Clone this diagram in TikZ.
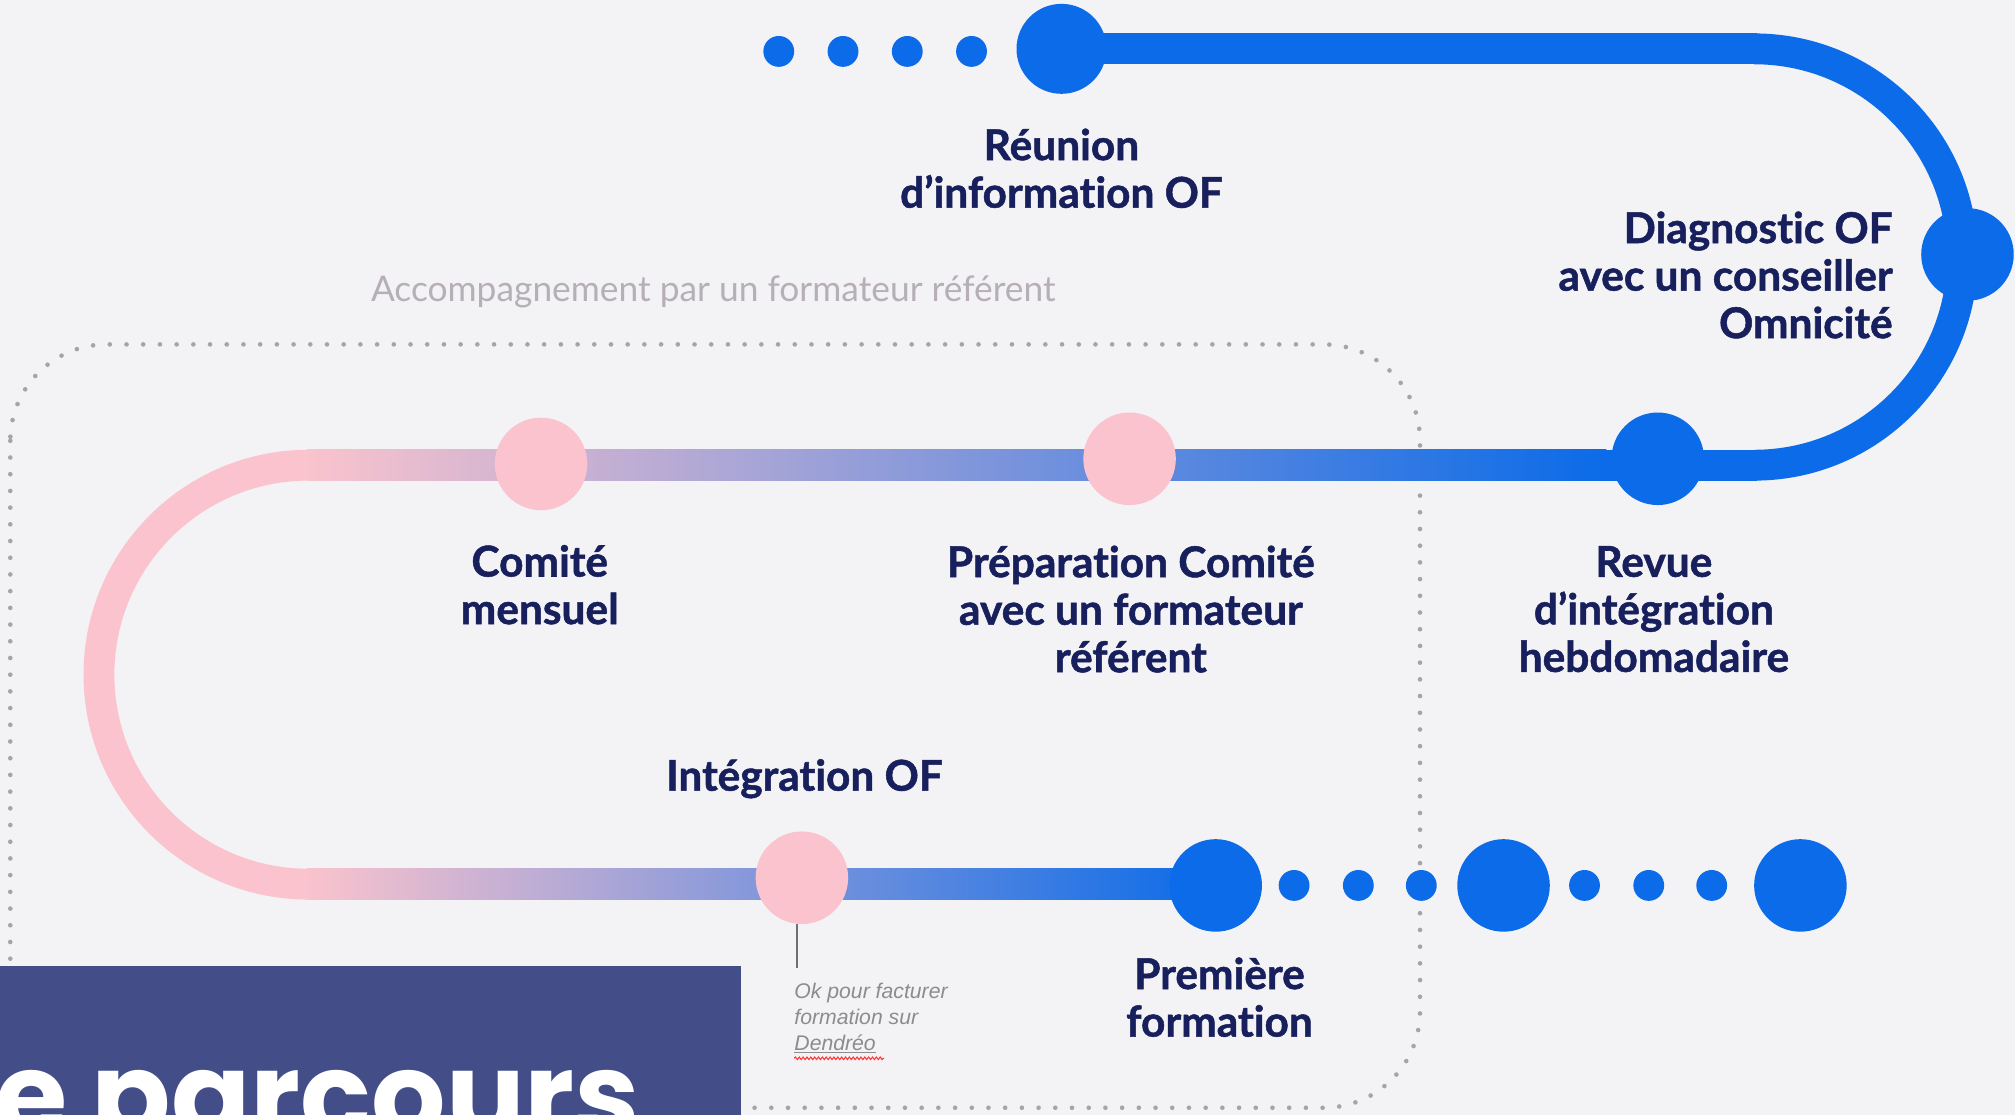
\documentclass[tikz,border=0pt]{standalone}
\usepackage{fontspec}
\setmainfont{Lato}[Ligatures=NoCommon,BoldFeatures={FakeBold=1.2}]
\newfontfamily\notefont{Liberation Sans}
\newfontfamily\titlefont{Poppins}
\usetikzlibrary{decorations.pathmorphing,calc}
\definecolor{bg}{HTML}{F3F2F5}
\definecolor{blueA}{HTML}{0B6BE8}
\definecolor{pinkA}{HTML}{FAC3CD}
\definecolor{navy}{HTML}{17205C}
\definecolor{boxblue}{HTML}{434E89}
\definecolor{greytxt}{HTML}{B7AFB8}
\definecolor{dotgrey}{HTML}{A5A5A8}
\definecolor{notegrey}{HTML}{8C8C8C}
\begin{document}
\begin{tikzpicture}[x=1pt,y=-1pt,
  bigdot/.style={circle,inner sep=0pt,minimum size=72pt},
  bluedot/.style={bigdot,fill=blueA},
  pinkdot/.style={bigdot,fill=pinkA},
  smalldot/.style={circle,fill=blueA,inner sep=0pt,minimum size=24pt},
  steplabel/.style={text=navy,font=\bfseries\fontsize{33}{37}\selectfont,align=center,inner sep=0pt},
  track/.style={line width=24pt},
  frame/.style={dotgrey,line width=3.6pt,line cap=round,dash pattern=on 0pt off 13pt,rounded corners=75pt},
  notestyle/.style={text=notegrey,font=\notefont\itshape\fontsize{16.5}{20}\selectfont,align=left,inner sep=0pt}
  ]
\useasboundingbox (0,0) rectangle (1568,868);
\clip (0,0) rectangle (1568,868);
\fill[bg] (0,0) rectangle (1568,868);

% dotted frame
\draw[frame] (8,268) rectangle (1105,862);

% track
\fill[blueA] (826,26) rectangle (1367,50);
\begin{scope}
  \clip (1365,0) rectangle (1600,400);
  \draw[track,blueA] (1365,200) circle[radius=162pt];
\end{scope}
\fill[blueA] (1248,350) rectangle (1367,374);
\shade[left color=pinkA,right color=blueA] (239,350) rectangle (1250,374);
\begin{scope}
  \clip (0,340) rectangle (241,712);
  \draw[track,pinkA] (240,525) circle[radius=163pt];
\end{scope}
\shade[left color=pinkA,right color=blueA] (239,676) rectangle (947,700);

% stations
\node[smalldot] (t1) at (606,40) {};
\node[smalldot] (t2) at (656,40) {};
\node[smalldot] (t3) at (706,40) {};
\node[smalldot] (t4) at (756,40) {};
\node[bluedot,minimum size=70pt] (reunion) at (826,38) {};
\node[bluedot] (diag) at (1531,198) {};
\node[bluedot] (revue) at (1290,357) {};
\node[pinkdot] (prep) at (879,357) {};
\node[pinkdot] (comite) at (421,361) {};
\node[pinkdot] (integ) at (624,683) {};
\node[bluedot] (premiere) at (946,689) {};
\node[smalldot] (b1) at (1007,689) {};
\node[smalldot] (b2) at (1057,689) {};
\node[smalldot] (b3) at (1106,689) {};
\node[bluedot] (big2) at (1170,689) {};
\node[smalldot] (b4) at (1233,689) {};
\node[smalldot] (b5) at (1283,689) {};
\node[smalldot] (b6) at (1332,689) {};
\node[bluedot] (big3) at (1401,689) {};

% labels
\node[steplabel] (lreunion) at (826,131) {Réunion\\d’information OF};
\node[steplabel,align=right,anchor=east] (ldiag) at (1473,214) {Diagnostic OF\\avec un conseiller\\Omnicité};
\node[steplabel] (lcomite) at (420,455) {Comité\\mensuel};
\node[steplabel] (lprep) at (880,474) {Préparation Comité\\avec un formateur\\référent};
\node[steplabel] (lrevue) at (1287,474) {Revue\\d’intégration\\hebdomadaire};
\node[steplabel] (linteg) at (626,606) {Intégration OF};
\node[steplabel] (lprem) at (949,776) {Première\\formation};

\node[text=greytxt,font=\fontsize{27.5}{30}\selectfont,inner sep=0pt] (accomp) at (555,227) {Accompagnement par un formateur référent};

% note
\coordinate (tickend) at (620,753);
\draw[line width=1.5pt,color=notegrey!80!black] (tickend |- integ.south) -- (tickend);
\node[notestyle,anchor=north west] (note) at (618,765) {Ok pour facturer\\formation sur\\\underline{Dendréo}};
\draw[red!80!white,line width=0.8pt,decorate,decoration={snake,amplitude=1pt,segment length=3pt}]
  ($(note.south west)+(0,4)$) -- ($(note.south west)+(70,4)$);

% title box
\fill[boxblue] (0,752) rectangle (577,868);
\node[anchor=base west,text=white,font=\titlefont\bfseries\fontsize{91}{91}\selectfont,inner sep=0pt] (title) at (-4,884) {e parcours};
\end{tikzpicture}
\end{document}
